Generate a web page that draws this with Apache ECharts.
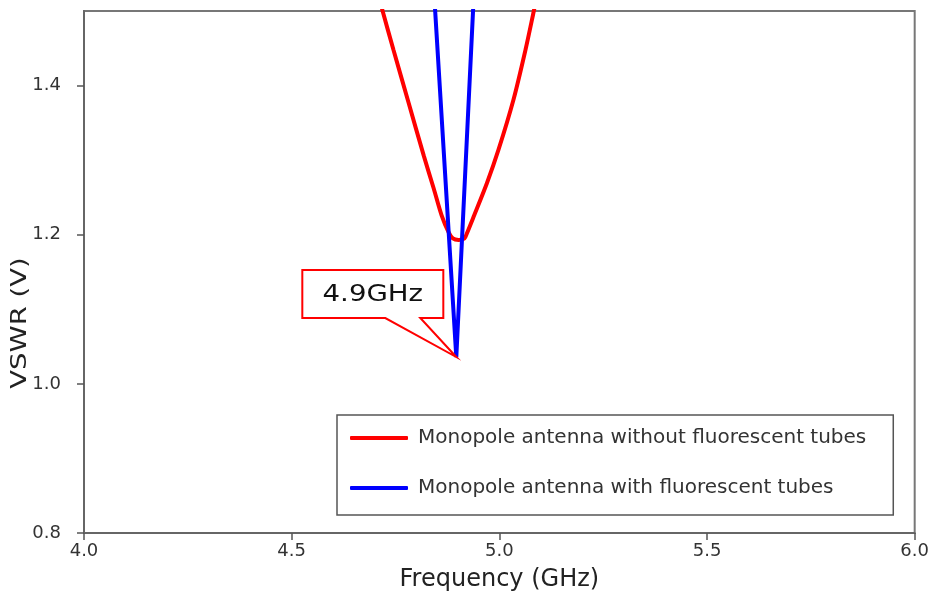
<!DOCTYPE html>
<html>
<head>
<meta charset="utf-8">
<script src="https://cdn.jsdelivr.net/npm/echarts@6/dist/echarts.min.js"></script>
<style>html,body{margin:0;padding:0;background:#fff;}#c{width:932px;height:598px;}</style>
</head>
<body>
<div id="c"></div>
<script>
// Data
const seriesNames = ['Monopole antenna without fluorescent tubes', 'Monopole antenna with fluorescent tubes'];
const redFreq = [4.700, 4.719, 4.745, 4.781, 4.818, 4.842, 4.861, 4.878, 4.888, 4.902, 4.916, 4.922, 4.938, 4.970, 4.998, 5.034, 5.063, 5.083, 5.100];
const redVswr = [1.540, 1.500, 1.448, 1.378, 1.306, 1.262, 1.226, 1.203, 1.195, 1.193, 1.195, 1.202, 1.224, 1.269, 1.314, 1.381, 1.448, 1.500, 1.545];
const blueFreq = [4.840, 4.8964, 4.941];
const blueVswr = [1.550, 1.036, 1.550];
const xLabels = ['4.0', '4.5', '5.0', '5.5', '6.0'];
const annotationText = '4.9GHz';
const annotationPoint = [4.8964, 1.036];

const chart = echarts.init(document.getElementById('c'));
const font = '"DejaVu Sans", Verdana, sans-serif';
chart.setOption({
  animation: false,
  backgroundColor: '#fff',
  grid: { left: 84, right: 17, top: 11, bottom: 65, show: true, borderColor: '#777', borderWidth: 2, backgroundColor: 'transparent' },
  xAxis: {
    type: 'value', min: 4.0, max: 6.0, interval: 0.5,
    name: 'Frequency (GHz)', nameLocation: 'middle', nameGap: 35,
    nameTextStyle: { fontFamily: font, fontSize: 24, color: '#222' },
    axisLine: { lineStyle: { color: '#666', width: 2 } },
    axisTick: { show: true, length: 7, lineStyle: { color: '#555', width: 1.5 } },
    axisLabel: { fontFamily: font, fontSize: 18, color: '#333', margin: 9,
      formatter: v => xLabels[Math.round((v - 4.0) / 0.5)] },
    splitLine: { show: false }
  },
  yAxis: {
    type: 'value', min: 0.8, max: 1.5, interval: 0.2,
    axisLine: { lineStyle: { color: '#666', width: 2 } },
    axisTick: { show: true, length: 7, lineStyle: { color: '#555', width: 1.5 } },
    axisLabel: { fontFamily: font, fontSize: 18, color: '#333', margin: 23, formatter: v => v.toFixed(1),
      showMaxLabel: false },
    splitLine: { show: false }
  },
  legend: {
    orient: 'vertical', left: 337, top: 415,
    padding: [13, 27, 17, 13], itemGap: 30,
    borderColor: '#555', borderWidth: 1.5, backgroundColor: '#fff',
    itemWidth: 58, itemHeight: 4, icon: 'roundRect',
    textStyle: { fontFamily: font, fontSize: 20, color: '#333', padding: [0, 0, 0, 5] },
    data: seriesNames
  },
  series: [
    { name: seriesNames[0], type: 'line', data: redFreq.map((f, i) => [f, redVswr[i]]), smooth: 0.3, symbol: 'none',
      lineStyle: { color: '#ff0000', width: 4 }, itemStyle: { color: '#ff0000' }, clip: true, z: 2 },
    { name: seriesNames[1], type: 'line', data: blueFreq.map((f, i) => [f, blueVswr[i]]), symbol: 'none',
      lineStyle: { color: '#0000ff', width: 4 }, itemStyle: { color: '#0000ff' }, clip: true, z: 3 }
  ]
});

const tip = chart.convertToPixel({ seriesIndex: 1 }, annotationPoint);
const L = tip[0] - 154, T = tip[1] - 87, W = 141, H = 48, B = T + H, R = L + W;
chart.setOption({
  graphic: [
    { type: 'polygon', z: 100,
      shape: { points: [[L, T], [R, T], [R, B], [L + 118, B], [tip[0], tip[1]], [L + 83, B], [L, B]] },
      style: { fill: '#fff', stroke: '#ff0000', lineWidth: 2 } },
    { type: 'text', z: 101, x: L + W / 2, y: T + H / 2 + 1, scaleX: 1.2,
      style: { text: annotationText, fontFamily: font, fontSize: 23, fill: '#111', align: 'center', verticalAlign: 'middle' } },
    { type: 'text', z: 101, x: 20, y: 323, rotation: Math.PI / 2, scaleX: 1.25,
      style: { text: 'VSWR (V)', fontFamily: font, fontSize: 22, fill: '#222', align: 'center', verticalAlign: 'middle' } }
  ]
});
</script>
</body>
</html>
